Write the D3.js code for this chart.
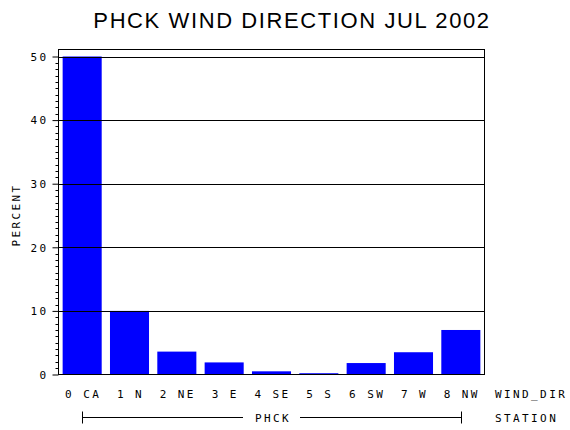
<!DOCTYPE html>
<html>
<head>
<meta charset="utf-8">
<script src="https://cdn.jsdelivr.net/npm/d3@7"></script>
<style>
  body { margin: 0; background: #fff; }
  svg text { fill: #000; }
  .lbl { font-family: "DejaVu Sans Mono", monospace; font-size: 11px; letter-spacing: 2.4px; }
  .title { font-family: "Liberation Sans", Arial, sans-serif; font-size: 22px; letter-spacing: 1.6px; }
</style>
</head>
<body>
<div id="chart"></div>
<script>
// data
var directions = ['0 CA', '1 N', '2 NE', '3 E', '4 SE', '5 S', '6 SW', '7 W', '8 NW'];
var percents = [50.0, 10.0, 3.6, 1.9, 0.5, 0.2, 1.8, 3.5, 7.0];
var yTicks = [0, 10, 20, 30, 40, 50];
var station = 'PHCK';

var _width = 570,
    _height = 430,
    _left = 58.5,
    _right = 484.5,
    _top = 49.5,
    _bottom = 374.5;

var svg = d3.select('#chart').append('svg')
    .attr('width', _width)
    .attr('height', _height);

var x = d3.scaleBand()
    .domain(directions)
    .range([_left, _right])
    .paddingInner(0.175)
    .paddingOuter(0.0875);

var y = d3.scaleLinear()
    .domain([0, 50])
    .range([_bottom, 56.5]);

// TITLE
svg.append('text')
    .attr('class', 'title')
    .attr('x', 292)
    .attr('y', 28)
    .attr('text-anchor', 'middle')
    .text('PHCK WIND DIRECTION JUL 2002');

// BARS
svg.append('g').selectAll('rect')
    .data(percents)
    .enter().append('rect')
    .attr('x', function (d, i) { return x(directions[i]); })
    .attr('y', function (d) { return y(d); })
    .attr('width', x.bandwidth())
    .attr('height', function (d) { return _bottom - y(d); })
    .attr('fill', '#0000ff');

// GRID LINES (drawn over the bars)
svg.append('g').selectAll('line')
    .data(yTicks.filter(function (d) { return d > 0; }))
    .enter().append('line')
    .attr('x1', _left).attr('x2', _right)
    .attr('y1', function (d) { return Math.round(y(d)) + 0.5; })
    .attr('y2', function (d) { return Math.round(y(d)) + 0.5; })
    .attr('stroke', '#000');

// FRAME
svg.append('rect')
    .attr('x', _left).attr('y', _top)
    .attr('width', _right - _left).attr('height', _bottom - _top)
    .attr('fill', 'none').attr('stroke', '#000');

// Y AXIS
var yAxis = d3.axisLeft(y)
    .tickValues(yTicks)
    .tickSize(6)
    .tickPadding(4)
    .tickFormat(d3.format('d'));

var minorTicks = d3.range(0, 51).filter(function (d) { return d % 10 !== 0; });

var gy = svg.append('g').attr('transform', 'translate(' + _left + ',0)');
gy.selectAll('.minor')
    .data(minorTicks)
    .enter().append('line')
    .attr('class', 'minor')
    .attr('x1', -3).attr('x2', 0)
    .attr('y1', function (d) { return Math.round(y(d)) + 0.5; })
    .attr('y2', function (d) { return Math.round(y(d)) + 0.5; })
    .attr('stroke', '#000');

var gMajor = svg.append('g')
    .attr('transform', 'translate(' + _left + ',0)')
    .call(yAxis);
gMajor.select('.domain').remove();
gMajor.selectAll('line').attr('stroke', '#000');
gMajor.selectAll('text')
    .attr('class', 'lbl')
    .attr('dy', '0.35em');
gMajor.attr('font-family', null).attr('font-size', null);

svg.append('text')
    .attr('class', 'lbl')
    .attr('transform', 'translate(20,' + ((_top + _bottom) / 2 + 3) + ') rotate(-90)')
    .attr('text-anchor', 'middle')
    .text('PERCENT');

// X AXIS LABELS
svg.append('g').selectAll('text')
    .data(directions)
    .enter().append('text')
    .attr('class', 'lbl')
    .attr('x', function (d) { return x(d) + x.bandwidth() / 2 + 1; })
    .attr('y', 398)
    .attr('text-anchor', 'middle')
    .text(function (d) { return d; });

svg.append('text')
    .attr('class', 'lbl')
    .attr('x', 495)
    .attr('y', 398)
    .text('WIND_DIR');

// STATION BRACKET
var bx1 = Math.round(x(directions[0]) + x.bandwidth() / 2) + 0.5,
    bx2 = Math.round(x(directions[directions.length - 1]) + x.bandwidth() / 2) + 0.5,
    by = 417.5,
    mid = (bx1 + bx2) / 2;

var gStation = svg.append('g').attr('stroke', '#000');
gStation.append('line').attr('x1', bx1).attr('x2', bx1).attr('y1', by - 6).attr('y2', by + 6);
gStation.append('line').attr('x1', bx2).attr('x2', bx2).attr('y1', by - 6).attr('y2', by + 6);
gStation.append('line').attr('x1', bx1).attr('x2', mid - 29).attr('y1', by).attr('y2', by);
gStation.append('line').attr('x1', mid + 28).attr('x2', bx2).attr('y1', by).attr('y2', by);

svg.append('text')
    .attr('class', 'lbl')
    .attr('x', mid + 1)
    .attr('y', 422)
    .attr('text-anchor', 'middle')
    .text(station);

svg.append('text')
    .attr('class', 'lbl')
    .attr('x', 495)
    .attr('y', 422)
    .text('STATION');
</script>
</body>
</html>
